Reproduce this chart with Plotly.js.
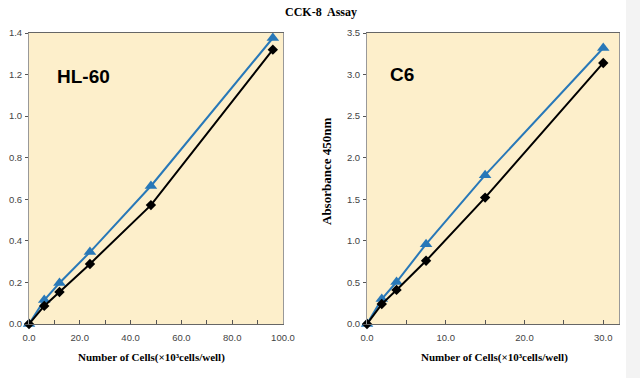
<!DOCTYPE html>
<html>
<head>
<meta charset="utf-8">
<script src="https://cdn.plot.ly/plotly-3.0.1.min.js"></script>
<style>html,body{margin:0;padding:0;background:#fff;}#chart{width:640px;height:378px;}</style>
</head>
<body>
<div id="chart"></div>
<script>
// HL-60 data
const hlCells = [0, 6, 12, 24, 48, 96];
const hlBlue  = [0, 0.115, 0.197, 0.346, 0.664, 1.376];
const hlBlack = [0, 0.087, 0.154, 0.289, 0.572, 1.32];
// C6 data
const c6Cells = [0, 1.875, 3.75, 7.5, 15, 30];
const c6Blue  = [0, 0.30, 0.505, 0.96, 1.79, 3.32];
const c6Black = [0, 0.24, 0.41, 0.76, 1.52, 3.14];
// tick labels
const hlXTickVals = [0,10,20,30,40,50,60,70,80,90,100];
const hlXTickText = ['0.0','','20.0','','40.0','','60.0','','80.0','','100.0'];
const hlYTickVals = [0,0.2,0.4,0.6,0.8,1.0,1.2,1.4];
const hlYTickText = ['0.0','0.2','0.4','0.6','0.8','1.0','1.2','1.4'];
const c6XTickVals = [0,5,10,15,20,25,30];
const c6XTickText = ['0.0','','10.0','','20.0','','30.0'];
const c6YTickVals = [0,0.5,1.0,1.5,2.0,2.5,3.0,3.5];
const c6YTickText = ['0.0','0.5','1.0','1.5','2.0','2.5','3.0','3.5'];

const blue = '#2878B8';
const black = '#000000';
const W = 640, H = 378;
const yDom = [(H-324)/H, (H-33)/H];

function line(x, y, color, sym, size, xa, ya) {
  return {x:x, y:y, xaxis:xa, yaxis:ya, type:'scatter', mode:'lines+markers',
    line:{color:color, width:2}, marker:{symbol:sym, size:size, color:color},
    showlegend:false, cliponaxis:false, hoverinfo:'skip'};
}
const data = [
  line(hlCells, hlBlue, blue, 'triangle-up', 11, 'x', 'y'),
  line(hlCells, hlBlack, black, 'diamond', 8, 'x', 'y'),
  line(c6Cells, c6Blue, blue, 'triangle-up', 11, 'x2', 'y2'),
  line(c6Cells, c6Black, black, 'diamond', 8, 'x2', 'y2')
];
const tickFont = {family:'Liberation Sans, Arial, sans-serif', size:9.5, color:'#444'};
function xax(dom, range, tv, tt, anchor) {
  return {domain:dom, range:range, anchor:anchor, tickmode:'array', tickvals:tv, ticktext:tt,
    ticks:'inside', ticklen:4, tickcolor:'#555', showgrid:false, zeroline:false, ticklabelstandoff:5,
    showline:true, linecolor:'#666', linewidth:1, mirror:true, tickfont:tickFont, automargin:false, fixedrange:true};
}
function yax(range, tv, tt, anchor) {
  return {domain:yDom, range:range, anchor:anchor, tickmode:'array', tickvals:tv, ticktext:tt,
    ticks:'outside', ticklen:3, tickcolor:'#555', showgrid:false, zeroline:false, ticklabelstandoff:1,
    showline:true, linecolor:'#999', linewidth:1, mirror:true, tickfont:tickFont, automargin:false, fixedrange:true};
}
const serifBold = {family:'Liberation Serif, Times New Roman, serif', size:12, color:'#000'};
const layout = {
  width:W, height:H, margin:{l:0,r:0,t:0,b:0},
  paper_bgcolor:'#ffffff', plot_bgcolor:'#FDEFCB',
  xaxis: xax([29/W, 283/W], [0,100], hlXTickVals, hlXTickText, 'y'),
  yaxis: yax([0,1.4], hlYTickVals, hlYTickText, 'x'),
  xaxis2: xax([367/W, 619/W], [0,32], c6XTickVals, c6XTickText, 'y2'),
  yaxis2: yax([0,3.5], c6YTickVals, c6YTickText, 'x2'),
  shapes: [
    {type:'rect', xref:'paper', yref:'paper', x0:626/W, x1:1, y0:0, y1:1, fillcolor:'#f3f3f3', line:{width:0}, layer:'below'}
  ],
  annotations: [
    {text:'<b>CCK-8  Assay</b>', xref:'paper', yref:'paper', x:321/W, y:1-12/H, showarrow:false, font:serifBold, xanchor:'center', yanchor:'middle'},
    {text:'<b>Number of Cells(×10³cells/well)</b>', xref:'paper', yref:'paper', x:151/W, y:1-357/H, showarrow:false, font:{family:serifBold.family, size:11, color:'#000'}, xanchor:'center', yanchor:'middle'},
    {text:'<b>Number of Cells(×10³cells/well)</b>', xref:'paper', yref:'paper', x:494/W, y:1-357/H, showarrow:false, font:{family:serifBold.family, size:11, color:'#000'}, xanchor:'center', yanchor:'middle'},
    {text:'<b>Absorbance 450nm</b>', xref:'paper', yref:'paper', x:326/W, y:1-172/H, showarrow:false, font:{family:serifBold.family, size:13, color:'#000'}, textangle:-90, xanchor:'center', yanchor:'middle'},
    {text:'<b>HL-60</b>', xref:'paper', yref:'paper', x:55/W, y:1-76/H, showarrow:false, font:{family:'Liberation Sans, Arial, sans-serif', size:19, color:'#000'}, xanchor:'left', yanchor:'middle'},
    {text:'<b>C6</b>', xref:'paper', yref:'paper', x:388/W, y:1-75/H, showarrow:false, font:{family:'Liberation Sans, Arial, sans-serif', size:19, color:'#000'}, xanchor:'left', yanchor:'middle'}
  ]
};
Plotly.newPlot('chart', data, layout, {displayModeBar:false, staticPlot:true});
</script>
</body>
</html>
